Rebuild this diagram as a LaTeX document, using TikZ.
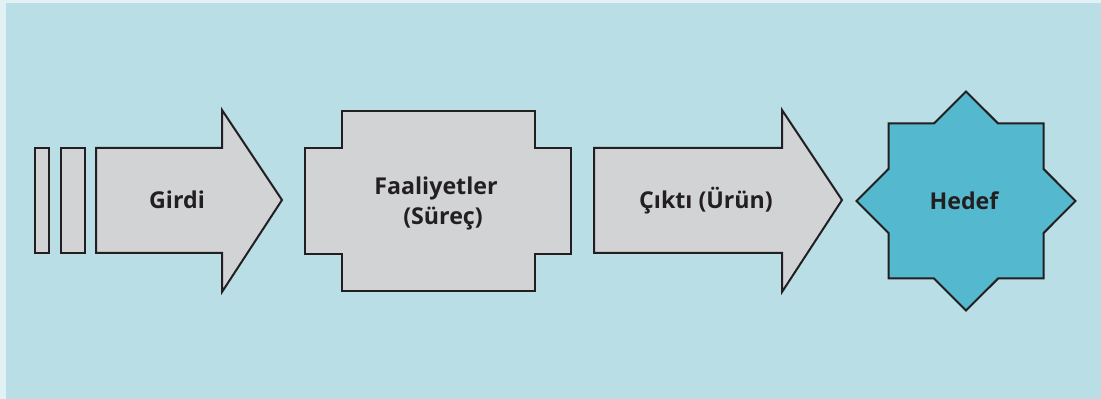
\documentclass[tikz,border=0pt]{standalone}
\usepackage{fontspec}
\setmainfont{Open Sans}
\usepackage{xcolor}
\usetikzlibrary{positioning}
\definecolor{Frame}{HTML}{E2F1F4}
\definecolor{Panel}{HTML}{B9DEE6}
\definecolor{Stone}{HTML}{D1D3D4}
\definecolor{Teal}{HTML}{54B8CE}
\definecolor{Ink}{HTML}{231F20}
\tikzset{block/.style={draw=Ink,line width=1pt,fill=Stone,line join=miter},goal/.style={block,fill=Teal},label/.style={text=Ink,font=\bfseries\fontsize{11.6}{15}\selectfont,align=center,inner sep=0pt}}

\begin{document}
\begin{tikzpicture}[x=0.5pt,y=-0.5pt]
\fill[Frame] (0,0) rectangle (1101,399);\fill[Panel] (6,3) rectangle (1101,399);
% input: two thin bars and the arrow
\draw[block] (35,148) rectangle (49,253);\draw[block] (61,148) rectangle (85,253);
\draw[block] (96,148) -- (222,148) -- (222,110) -- (282,200) -- (222,292) -- (222,253) -- (96,253) -- cycle;
\node[label] (girdi) at (177,200) {Girdi};
% process block with notched corners
\draw[block] (305,148) -- (342,148) -- (342,111) -- (535,111) -- (535,148) -- (571,148) -- (571,254) -- (535,254) -- (535,291) -- (342,291) -- (342,254) -- (305,254) -- cycle;
\node[label] (surec) at (436,203) {Faaliyetler\\\hspace*{7pt}(Süreç)};
% output arrow
\draw[block] (594,148) -- (782,148) -- (782,110) -- (842,200) -- (782,292) -- (782,253) -- (594,253) -- cycle;
\node[label] (cikti) at (706,201) {Çıktı (Ürün)};
% eight-pointed star: square plus diamond
\draw[goal] (966,91.5) -- (998.1,123.5) -- (1043.5,123.5) -- (1043.5,168.9) -- (1075.5,201) -- (1043.5,233.1) -- (1043.5,278.5) -- (998.1,278.5) -- (966,310.5) -- (933.9,278.5) -- (888.5,278.5) -- (888.5,233.1) -- (856.5,201) -- (888.5,168.9) -- (888.5,123.5) -- (933.9,123.5) -- cycle;
\node[label] (hedef) at (964,201) {Hedef};
\end{tikzpicture}
\end{document}
